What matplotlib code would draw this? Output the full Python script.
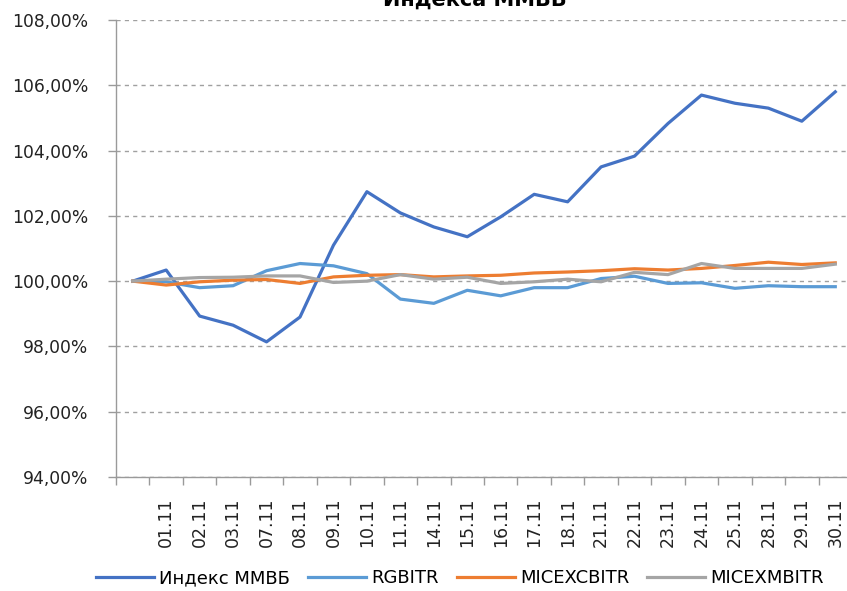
import matplotlib
matplotlib.use("Agg")
import matplotlib.pyplot as plt
from matplotlib.ticker import FuncFormatter, FixedLocator

categories = ["", "01.11", "02.11", "03.11", "07.11", "08.11", "09.11", "10.11", "11.11",
              "14.11", "15.11", "16.11", "17.11", "18.11", "21.11", "22.11", "23.11",
              "24.11", "25.11", "28.11", "29.11", "30.11"]

micex = [100.00, 100.34, 98.93, 98.65, 98.14, 98.90, 101.10, 102.74, 102.09, 101.66,
         101.36, 101.97, 102.66, 102.43, 103.50, 103.83, 104.83, 105.70, 105.45,
         105.30, 104.90, 105.80]
rgbitr = [100.00, 99.98, 99.80, 99.86, 100.32, 100.54, 100.47, 100.23, 99.45, 99.32,
          99.72, 99.55, 99.80, 99.80, 100.08, 100.15, 99.93, 99.95, 99.78, 99.86,
          99.83, 99.83]
micexcbitr = [100.00, 99.88, 99.98, 100.03, 100.05, 99.93, 100.13, 100.18, 100.20,
              100.13, 100.16, 100.18, 100.25, 100.28, 100.32, 100.38, 100.34, 100.39,
              100.48, 100.58, 100.51, 100.56]
micexmbitr = [100.00, 100.06, 100.11, 100.12, 100.16, 100.16, 99.96, 100.00, 100.20,
              100.06, 100.12, 99.93, 99.98, 100.06, 99.98, 100.27, 100.20, 100.54,
              100.39, 100.39, 100.39, 100.52]

series_names = ["Индекс ММВБ", "RGBITR", "MICEXCBITR", "MICEXMBITR"]
colors = ["#4472C4", "#5B9BD5", "#ED7D31", "#A5A5A5"]
title = "Индекса ММВБ"

fig = plt.figure(figsize=(8.47, 5.91), dpi=100)
ax = fig.add_axes([116/847, 1 - 477/591, 736/847, 457/591])

x = list(range(len(categories)))
for vals, name, c in zip([micex, rgbitr, micexcbitr, micexmbitr], series_names, colors):
    ax.plot(x, vals, color=c, lw=2.3, label=name, solid_joinstyle="round")

ax.set_xlim(-0.5, len(categories) - 0.5)
ax.set_ylim(94, 108)
ax.set_yticks([94, 96, 98, 100, 102, 104, 106, 108])
ax.yaxis.set_major_formatter(FuncFormatter(lambda v, p: f"{v:.2f}".replace(".", ",") + "%"))
ax.grid(axis="y", linestyle=(0, (3, 3)), color="#A0A0A0", lw=1)
ax.set_axisbelow(True)

ax.xaxis.set_major_locator(FixedLocator([i - 0.5 for i in range(len(categories) + 1)]))
ax.xaxis.set_major_formatter(FuncFormatter(lambda v, p: ""))
ax.xaxis.set_minor_locator(FixedLocator(x))
ax.set_xticklabels(categories, minor=True, rotation=90)
ax.tick_params(axis="x", which="minor", length=0, pad=15, labelsize=12.5, labelcolor="#222222")
ax.tick_params(axis="x", which="major", length=6, color="#9A9A9A", width=1)
ax.tick_params(axis="y", length=6, color="#9A9A9A", width=1, labelsize=12.3, labelcolor="#222222", pad=14)

for s in ["top", "right"]:
    ax.spines[s].set_visible(False)
for s in ["left", "bottom"]:
    ax.spines[s].set_color("#9A9A9A")
    ax.spines[s].set_linewidth(1)

fig.text(0.561, 1 - 6/591, title, ha="center", va="baseline", fontsize=15, fontweight="bold")

fig.legend(loc="center", bbox_to_anchor=(0.543, 1 - 578/591), ncol=4, frameon=False,
           fontsize=13, handlelength=3.2, columnspacing=1.0, handletextpad=0.3)

fig.savefig("out.png", dpi=100)
